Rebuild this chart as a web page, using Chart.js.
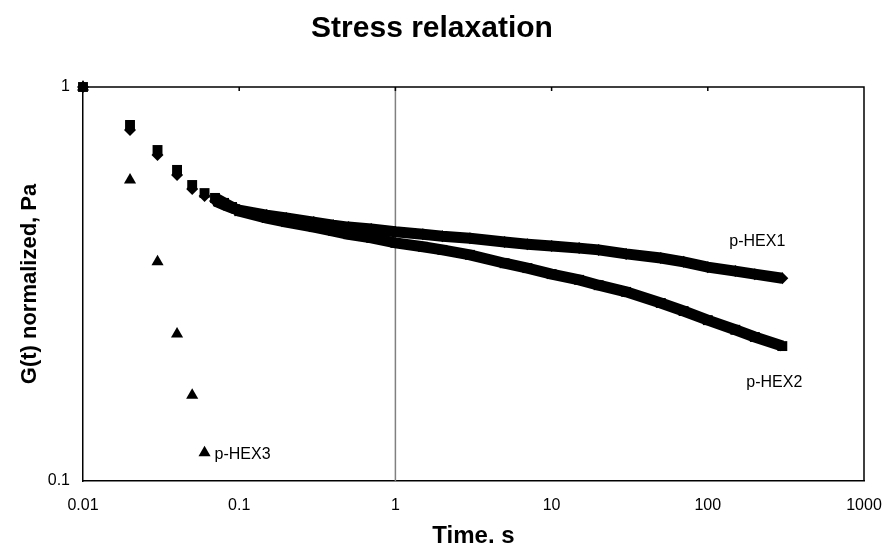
<!DOCTYPE html>
<html>
<head>
<meta charset="utf-8">
<script src="https://cdn.jsdelivr.net/npm/chart.js@4.4.0/dist/chart.umd.min.js"></script>
<style>
  html, body { margin: 0; padding: 0; background: #fff; }
  #wrap { width: 886px; height: 548px; }
</style>
</head>
<body>
<div id="wrap"><canvas id="relaxChart" width="886" height="548"></canvas></div>
<script>
// time samples, s
const times = [0.01, 0.02, 0.03, 0.04, 0.05, 0.06, 0.07, 0.08, 0.09, 0.1,
  0.15, 0.2, 0.3, 0.4, 0.5, 0.7, 1, 1.5, 2, 3, 5, 7, 10, 15, 20, 30, 50, 70, 100, 150, 200, 300];

// G(t) normalized
const hex1 = [1, 0.778, 0.672, 0.598, 0.551, 0.529, 0.514, 0.502, 0.493, 0.487,
  0.473, 0.465, 0.454, 0.446, 0.441, 0.436, 0.429, 0.423, 0.418, 0.413, 0.404, 0.399, 0.395, 0.390, 0.386, 0.377, 0.368, 0.360, 0.349, 0.341, 0.335, 0.327];
const hex2 = [1, 0.801, 0.692, 0.616, 0.564, 0.538, 0.523, 0.508, 0.496, 0.484,
  0.465, 0.454, 0.441, 0.431, 0.423, 0.414, 0.402, 0.393, 0.386, 0.375, 0.357, 0.347, 0.335, 0.324, 0.314, 0.302, 0.283, 0.270, 0.256, 0.242, 0.232, 0.220];
const hex3Times = [0.01, 0.02, 0.03, 0.04, 0.05, 0.06];
const hex3 = [1, 0.581, 0.360, 0.236, 0.165, 0.118];

const xTicks = [0.01, 0.1, 1, 10, 100, 1000];
const xTickLabels = ['0.01', '0.1', '1', '10', '100', '1000'];
const yTicks = [0.1, 1];
const yTickLabels = ['0.1', '1'];

const toPoints = (xs, ys) => xs.map((x, i) => ({ x: x, y: ys[i] }));

// early samples are separate markers, the rest runs together into a band
const bandColor = ctx => times[ctx.p0DataIndex] < 0.065 ? 'rgba(0,0,0,0)' : '#000';

const frameAndLabels = {
  id: 'frameAndLabels',
  beforeDatasetsDraw(chart) {
    const { ctx, chartArea: a, scales } = chart;
    const x1 = scales.x.getPixelForValue(1);
    ctx.save();
    ctx.strokeStyle = '#808080';
    ctx.lineWidth = 1.5;
    ctx.beginPath();
    ctx.moveTo(x1, a.top);
    ctx.lineTo(x1, a.bottom);
    ctx.stroke();
    ctx.restore();
  },
  afterDraw(chart) {
    const { ctx, chartArea: a, scales } = chart;
    ctx.save();
    ctx.strokeStyle = '#000';
    ctx.lineWidth = 1.5;
    ctx.beginPath();
    ctx.moveTo(a.left, a.top);
    ctx.lineTo(a.right, a.top);
    ctx.lineTo(a.right, a.bottom);
    xTicks.slice(1, -1).forEach(v => {
      const px = scales.x.getPixelForValue(v);
      ctx.moveTo(px, a.top);
      ctx.lineTo(px, a.top + 4);
    });
    ctx.stroke();

    ctx.fillStyle = '#000';
    ctx.font = '16px "Liberation Sans", Arial, sans-serif';
    ctx.textBaseline = 'middle';
    const last = times.length - 1;
    const xEnd = scales.x.getPixelForValue(times[last]);
    ctx.textAlign = 'center';
    ctx.fillText('p-HEX1', xEnd - 25, scales.y.getPixelForValue(hex1[last]) - 37);
    ctx.fillText('p-HEX2', xEnd - 8, scales.y.getPixelForValue(hex2[last]) + 37);
    ctx.textAlign = 'left';
    const i3 = hex3.length - 1;
    ctx.fillText('p-HEX3', scales.x.getPixelForValue(hex3Times[i3]) + 10,
      scales.y.getPixelForValue(hex3[i3]) + 2);
    ctx.restore();
  }
};

new Chart(document.getElementById('relaxChart').getContext('2d'), {
  type: 'line',
  data: {
    datasets: [
      {
        label: 'p-HEX2',
        data: toPoints(times, hex2),
        borderColor: '#000',
        backgroundColor: '#000',
        borderWidth: 11,
        borderCapStyle: 'butt',
        pointStyle: 'rect',
        pointRadius: 7,
        pointBorderWidth: 0,
        segment: { borderColor: bandColor },
        clip: false
      },
      {
        label: 'p-HEX1',
        data: toPoints(times, hex1),
        borderColor: '#000',
        backgroundColor: '#000',
        borderWidth: 11,
        borderCapStyle: 'butt',
        pointStyle: 'rectRot',
        pointRadius: 6,
        pointBorderWidth: 0,
        segment: { borderColor: bandColor },
        clip: false
      },
      {
        label: 'p-HEX3',
        data: toPoints(hex3Times, hex3),
        showLine: false,
        backgroundColor: '#000',
        borderColor: '#000',
        pointStyle: 'triangle',
        pointRadius: 7,
        pointBorderWidth: 0,
        clip: false
      }
    ]
  },
  options: {
    responsive: false,
    animation: false,
    layout: { padding: { top: 0, right: 22, bottom: 0, left: 0 } },
    elements: { line: { tension: 0 } },
    plugins: {
      legend: { display: false },
      tooltip: { enabled: false },
      title: {
        display: true,
        text: 'Stress relaxation',
        color: '#000',
        font: { family: '"Liberation Sans", Arial, sans-serif', size: 30, weight: 'bold', lineHeight: 1.2 },
        padding: { top: 11, bottom: 40 }
      }
    },
    scales: {
      x: {
        type: 'logarithmic',
        min: 0.01,
        max: 1000,
        afterBuildTicks: s => { s.ticks = xTicks.map(v => ({ value: v })); },
        afterFit: s => { s.height = 67; s.paddingLeft = 0; s.paddingRight = 0; },
        grid: { display: false, drawTicks: false },
        border: { display: true, color: '#000', width: 1.5 },
        ticks: {
          color: '#000',
          padding: 15,
          maxRotation: 0,
          font: { family: '"Liberation Sans", Arial, sans-serif', size: 16 },
          callback: v => xTickLabels[xTicks.indexOf(v)]
        },
        title: {
          display: true,
          text: 'Time. s',
          color: '#000',
          padding: 0,
          font: { family: '"Liberation Sans", Arial, sans-serif', size: 24, weight: 'bold', lineHeight: 1 }
        }
      },
      y: {
        type: 'logarithmic',
        min: 0.1,
        max: 1,
        afterBuildTicks: s => { s.ticks = yTicks.map(v => ({ value: v })); },
        afterFit: s => { s.width = 83; },
        grid: { display: false, drawTicks: false },
        border: { display: true, color: '#000', width: 1.5 },
        ticks: {
          color: '#000',
          padding: 13,
          font: { family: '"Liberation Sans", Arial, sans-serif', size: 16 },
          callback: v => yTickLabels[yTicks.indexOf(v)]
        },
        title: {
          display: true,
          text: 'G(t) normalized, Pa',
          color: '#000',
          padding: { top: 19, bottom: 0 },
          font: { family: '"Liberation Sans", Arial, sans-serif', size: 22, weight: 'bold', lineHeight: 1 }
        }
      }
    }
  },
  plugins: [frameAndLabels]
});
</script>
</body>
</html>
